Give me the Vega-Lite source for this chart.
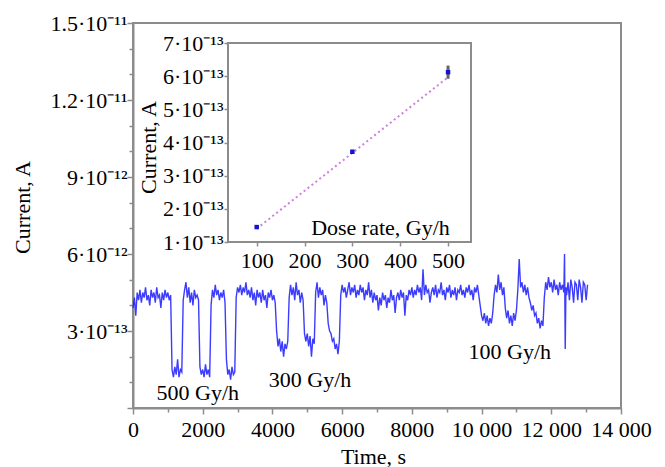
{
"$schema":"https://vega.github.io/schema/vega-lite/v6.json",
"width":488,"height":385,
"autosize":{"type":"none"},
"padding":{"left":133,"top":23,"right":44,"bottom":59},
"background":"white",
"config":{
 "view":{"stroke":"#8c8c8c","strokeWidth":2},
 "font":"Liberation Serif",
 "axis":{"labelFont":"Liberation Serif","titleFont":"Liberation Serif","labelOverlap":false},
 "style":{"guide-label":{"font":"Liberation Serif"},"guide-title":{"font":"Liberation Serif"}}
},
"layer":[
  {"data":{"values":[
{"t":0,"i":3.9},{"t":40,"i":4.3},{"t":80,"i":3.6},{"t":120,"i":4.5},{"t":160,"i":4.2},{"t":200,"i":4.6},{"t":240,"i":4.1},{"t":280,"i":4.5},{"t":320,"i":4.3},{"t":360,"i":4.7},{"t":400,"i":4.2},{"t":440,"i":4.4},{"t":480,"i":4.0},{"t":520,"i":4.6},{"t":560,"i":4.3},{"t":600,"i":4.5},{"t":640,"i":4.1},{"t":680,"i":4.7},{"t":720,"i":4.3},{"t":760,"i":4.4},{"t":800,"i":3.9},{"t":840,"i":4.5},{"t":880,"i":4.2},{"t":920,"i":4.6},{"t":960,"i":4.3},{"t":1000,"i":4.5},{"t":1040,"i":4.2},{"t":1080,"i":4.4},
{"t":1120,"i":1.5},{"t":1160,"i":1.2},{"t":1200,"i":1.6},{"t":1240,"i":1.3},{"t":1280,"i":1.9},{"t":1320,"i":1.2},{"t":1360,"i":1.5},{"t":1400,"i":1.4},
{"t":1440,"i":4.2},{"t":1480,"i":4.6},{"t":1520,"i":4.9},{"t":1560,"i":4.3},{"t":1600,"i":4.7},{"t":1640,"i":4.1},{"t":1680,"i":4.5},{"t":1720,"i":4.0},{"t":1760,"i":4.6},{"t":1800,"i":4.3},{"t":1840,"i":4.4},{"t":1880,"i":4.2},
{"t":1920,"i":1.6},{"t":1960,"i":1.3},{"t":2000,"i":1.5},{"t":2040,"i":1.2},{"t":2080,"i":1.7},{"t":2120,"i":1.3},{"t":2160,"i":1.5},{"t":2200,"i":1.2},
{"t":2240,"i":4.0},{"t":2280,"i":4.6},{"t":2320,"i":4.3},{"t":2360,"i":4.8},{"t":2400,"i":4.4},{"t":2440,"i":4.6},{"t":2480,"i":4.2},{"t":2520,"i":4.5},{"t":2560,"i":4.3},{"t":2600,"i":4.6},{"t":2640,"i":4.1},
{"t":2680,"i":1.9},{"t":2720,"i":1.3},{"t":2760,"i":1.5},{"t":2800,"i":1.1},{"t":2840,"i":1.6},{"t":2880,"i":1.3},{"t":2920,"i":1.4},
{"t":2960,"i":4.3},{"t":3000,"i":4.7},{"t":3040,"i":4.5},{"t":3080,"i":4.8},{"t":3120,"i":4.4},{"t":3160,"i":4.7},{"t":3200,"i":4.5},{"t":3240,"i":4.9},{"t":3280,"i":4.4},{"t":3320,"i":4.6},{"t":3360,"i":4.3},{"t":3400,"i":4.7},{"t":3440,"i":4.2},{"t":3480,"i":4.5},{"t":3520,"i":4.0},{"t":3560,"i":4.6},{"t":3600,"i":4.3},{"t":3640,"i":4.5},{"t":3680,"i":4.1},{"t":3720,"i":4.6},{"t":3760,"i":4.2},{"t":3800,"i":4.4},{"t":3840,"i":3.9},{"t":3880,"i":4.5},{"t":3920,"i":4.3},{"t":3960,"i":4.6},{"t":4000,"i":4.2},{"t":4040,"i":4.4},{"t":4080,"i":4.1},
{"t":4120,"i":3.0},{"t":4160,"i":2.4},{"t":4200,"i":2.7},{"t":4240,"i":2.2},{"t":4280,"i":2.6},{"t":4320,"i":2.0},{"t":4360,"i":2.5},{"t":4400,"i":2.3},{"t":4440,"i":2.6},
{"t":4480,"i":4.3},{"t":4520,"i":4.8},{"t":4560,"i":4.4},{"t":4600,"i":4.7},{"t":4640,"i":4.2},{"t":4680,"i":4.9},{"t":4720,"i":4.4},{"t":4760,"i":4.6},{"t":4800,"i":4.1},{"t":4840,"i":4.5},{"t":4880,"i":4.2},
{"t":4920,"i":2.9},{"t":4960,"i":2.6},{"t":5000,"i":2.9},{"t":5040,"i":2.4},{"t":5080,"i":2.8},{"t":5120,"i":2.0},{"t":5160,"i":2.7},{"t":5200,"i":2.5},
{"t":5240,"i":4.5},{"t":5280,"i":4.9},{"t":5320,"i":4.3},{"t":5360,"i":4.7},{"t":5400,"i":4.4},{"t":5440,"i":4.6},{"t":5480,"i":4.0},{"t":5520,"i":4.4},{"t":5560,"i":4.1},
{"t":5600,"i":3.3},{"t":5640,"i":3.0},{"t":5680,"i":2.9},{"t":5720,"i":2.6},{"t":5760,"i":2.7},{"t":5800,"i":2.3},{"t":5840,"i":2.5},{"t":5880,"i":2.1},{"t":5920,"i":2.6},
{"t":5960,"i":4.4},{"t":6000,"i":4.8},{"t":6040,"i":4.5},{"t":6080,"i":4.7},{"t":6120,"i":4.3},{"t":6160,"i":4.6},{"t":6200,"i":4.9},{"t":6240,"i":4.4},{"t":6280,"i":4.7},{"t":6320,"i":4.5},{"t":6360,"i":4.8},{"t":6400,"i":4.3},{"t":6440,"i":4.6},{"t":6480,"i":4.4},{"t":6520,"i":4.8},{"t":6560,"i":4.5},{"t":6600,"i":4.7},{"t":6640,"i":4.2},{"t":6680,"i":4.6},{"t":6720,"i":4.4},{"t":6760,"i":4.9},{"t":6800,"i":4.3},{"t":6840,"i":4.6},{"t":6880,"i":4.1},{"t":6920,"i":4.5},{"t":6960,"i":4.2},{"t":7000,"i":4.4},{"t":7040,"i":3.8},{"t":7080,"i":4.3},{"t":7120,"i":4.0},{"t":7160,"i":4.5},{"t":7200,"i":4.2},{"t":7240,"i":4.4},{"t":7280,"i":3.9},{"t":7320,"i":4.3},{"t":7360,"i":4.1},{"t":7400,"i":4.6},{"t":7440,"i":4.2},{"t":7480,"i":4.4},{"t":7520,"i":3.7},{"t":7560,"i":4.3},{"t":7600,"i":4.5},{"t":7640,"i":4.2},{"t":7680,"i":4.6},{"t":7720,"i":4.3},{"t":7760,"i":4.5},{"t":7800,"i":3.6},{"t":7840,"i":4.4},{"t":7880,"i":4.2},{"t":7920,"i":4.6},{"t":7960,"i":4.4},{"t":8000,"i":4.7},{"t":8040,"i":4.3},{"t":8080,"i":4.6},{"t":8120,"i":4.4},{"t":8160,"i":4.8},{"t":8200,"i":4.5},{"t":8240,"i":4.7},{"t":8280,"i":4.2},{"t":8320,"i":5.4},{"t":8360,"i":4.4},{"t":8400,"i":4.8},{"t":8440,"i":4.5},{"t":8480,"i":4.6},{"t":8520,"i":4.1},{"t":8560,"i":4.5},{"t":8600,"i":4.7},{"t":8640,"i":4.4},{"t":8680,"i":4.8},{"t":8720,"i":4.3},{"t":8760,"i":4.6},{"t":8800,"i":4.5},{"t":8840,"i":4.9},{"t":8880,"i":4.4},{"t":8920,"i":4.6},{"t":8960,"i":4.2},{"t":9000,"i":4.7},{"t":9040,"i":4.5},{"t":9080,"i":4.8},{"t":9120,"i":4.3},{"t":9160,"i":4.6},{"t":9200,"i":4.4},{"t":9240,"i":4.7},{"t":9280,"i":4.2},{"t":9320,"i":4.6},{"t":9360,"i":4.5},{"t":9400,"i":4.8},{"t":9440,"i":4.4},{"t":9480,"i":4.6},{"t":9520,"i":4.3},{"t":9560,"i":4.7},{"t":9600,"i":4.5},{"t":9640,"i":4.8},{"t":9680,"i":4.4},{"t":9720,"i":4.6},{"t":9760,"i":4.2},{"t":9800,"i":4.7},{"t":9840,"i":4.5},{"t":9880,"i":4.8},{"t":9920,"i":4.4},
{"t":9960,"i":4.0},{"t":10000,"i":3.6},{"t":10040,"i":3.4},{"t":10080,"i":3.7},{"t":10120,"i":3.3},{"t":10160,"i":3.6},{"t":10200,"i":3.2},{"t":10240,"i":3.5},{"t":10280,"i":3.3},{"t":10320,"i":3.7},
{"t":10360,"i":4.4},{"t":10400,"i":4.8},{"t":10440,"i":4.5},{"t":10480,"i":5.2},{"t":10520,"i":4.6},{"t":10560,"i":4.9},{"t":10600,"i":4.4},{"t":10640,"i":4.7},
{"t":10680,"i":3.9},{"t":10720,"i":3.5},{"t":10760,"i":3.8},{"t":10800,"i":3.3},{"t":10840,"i":3.6},{"t":10880,"i":3.2},{"t":10920,"i":3.7},{"t":10960,"i":3.4},{"t":11000,"i":3.8},
{"t":11040,"i":4.6},{"t":11080,"i":5.8},{"t":11120,"i":4.7},{"t":11160,"i":4.9},{"t":11200,"i":4.5},{"t":11240,"i":4.8},{"t":11280,"i":4.4},{"t":11320,"i":4.7},{"t":11360,"i":4.3},
{"t":11400,"i":4.1},{"t":11440,"i":3.8},{"t":11480,"i":4.0},{"t":11520,"i":3.6},{"t":11560,"i":3.7},{"t":11600,"i":3.3},{"t":11640,"i":3.5},{"t":11680,"i":3.1},{"t":11720,"i":3.4},{"t":11760,"i":3.2},
{"t":11800,"i":4.3},{"t":11840,"i":4.9},{"t":11880,"i":4.6},{"t":11920,"i":5.1},{"t":11960,"i":4.7},{"t":12000,"i":4.9},{"t":12040,"i":4.5},{"t":12080,"i":5.0},{"t":12120,"i":4.6},{"t":12160,"i":4.8},{"t":12200,"i":4.4},{"t":12240,"i":4.9},{"t":12280,"i":4.6},{"t":12320,"i":4.8},{"t":12360,"i":4.5},{"t":12380,"i":6.0},{"t":12400,"i":2.3},{"t":12420,"i":4.7},{"t":12440,"i":4.4},{"t":12480,"i":4.9},{"t":12520,"i":4.2},{"t":12560,"i":5.0},{"t":12600,"i":4.7},{"t":12640,"i":4.1},{"t":12680,"i":4.9},{"t":12720,"i":4.8},{"t":12760,"i":4.2},{"t":12800,"i":5.0},{"t":12840,"i":4.7},{"t":12880,"i":4.1},{"t":12920,"i":4.9},{"t":12960,"i":4.8},{"t":13000,"i":4.2},{"t":13040,"i":4.8}
  ]},
  "mark":{"type":"line","color":"#1a1aff","strokeWidth":1.4,"opacity":0.85},
  "encoding":{
   "x":{"field":"t","type":"quantitative","scale":{"domain":[0,14000],"nice":false},
    "axis":{"orient":"bottom","values":[0,2000,4000,6000,8000,10000,12000,14000],"format":"d",
     "labelExpr":"datum.value >= 10000 ? floor(datum.value/1000) + ' 000' : datum.label",
     "labelOverlap":false,"labelFlush":false,"labelBound":false,
     "labelFont":"Liberation Serif","labelFontSize":22,"labelColor":"black",
     "titleFont":"Liberation Serif","titleFontSize":22,"titleFontWeight":"normal","titleColor":"black",
     "domainColor":"#8c8c8c","domainWidth":2,"tickColor":"#8c8c8c","tickWidth":1.5,"tickSize":6,"grid":false,
     "labelPadding":5,
     "title":"Time, s","titleX":240,"titleY":55,"titleAlign":"center","titleBaseline":"alphabetic"}},
   "y":{"field":"i","type":"quantitative","scale":{"domain":[0,15],"nice":false},
    "axis":{"orient":"left","values":[0,3,6,9,12,15],
     "labelExpr":"datum.value == 15 ? '1.5·10⁻¹¹' : datum.value == 12 ? '1.2·10⁻¹¹' : datum.value == 9 ? '9·10⁻¹²' : datum.value == 6 ? '6·10⁻¹²' : datum.value == 3 ? '3·10⁻¹³' : ''",
     "labelOverlap":false,"labelFlush":false,"labelBound":false,
     "labelFont":"Liberation Serif","labelFontSize":22,"labelColor":"black",
     "titleFont":"Liberation Serif","titleFontSize":22,"titleFontWeight":"normal","titleColor":"black",
     "domainColor":"#8c8c8c","domainWidth":2,"tickColor":"#8c8c8c","tickWidth":1.5,"tickSize":6,"grid":false,
     "labelPadding":0,
     "title":"Current, A","titleX":-111,"titleY":184,"titleAngle":-90,"titleAlign":"center","titleBaseline":"middle"}}
  }},
 {"layer":[
  {"data":{"values":[{"d":100,"c":1.45}]},
   "mark":{"type":"rect","fill":"white","stroke":"#8c8c8c","strokeWidth":2},
   "encoding":{
    "x":{"datum":40,"type":"quantitative","scale":{"domain":[40,548],"range":[95,338],"nice":false,"zero":false},
     "axis":{"orient":"bottom","offset":-166,"values":[100,200,300,400,500],"domain":false,"zindex":2,
      "labelOverlap":false,"labelFlush":false,"labelBound":false,
      "labelFont":"Liberation Serif","labelFontSize":22,"labelColor":"black",
      "titleFont":"Liberation Serif","titleFontSize":22,"titleFontWeight":"normal","titleColor":"black",
      "tickColor":"#8c8c8c","tickWidth":1.5,"tickSize":4,"grid":false,"labelPadding":4,
      "title":"Dose rate, Gy/h","titleX":247,"titleY":-15,"titleAlign":"center","titleBaseline":"middle"}},
    "x2":{"datum":548},
    "y":{"datum":1,"type":"quantitative","scale":{"domain":[1,7],"range":[219,20],"nice":false,"zero":false},
     "axis":{"orient":"left","offset":-95,"values":[1,2,3,4,5,6,7],"domain":false,"zindex":2,
      "labelExpr":"datum.value + '·10⁻¹³'",
      "labelOverlap":false,"labelFlush":false,"labelBound":false,
      "labelFont":"Liberation Serif","labelFontSize":22,"labelColor":"black",
      "titleFont":"Liberation Serif","titleFontSize":22,"titleFontWeight":"normal","titleColor":"black",
      "tickColor":"#8c8c8c","tickWidth":1.5,"tickSize":4,"grid":false,"labelPadding":1,
      "title":"Current, A","titleX":-80,"titleY":124,"titleAngle":-90,"titleAlign":"center","titleBaseline":"middle"}},
    "y2":{"datum":7}
   }},
  {"data":{"values":[{"d":100,"c":1.4},{"d":500,"c":5.97}]},
   "mark":{"type":"line","color":"#cc80dd","strokeWidth":2,"strokeDash":[2,3]},
   "encoding":{"x":{"field":"d","type":"quantitative"},"y":{"field":"c","type":"quantitative"}}},
  {"data":{"values":[{"d":100,"c":1.45,"lo":1.42,"hi":1.48},{"d":300,"c":3.72,"lo":3.66,"hi":3.78},{"d":500,"c":6.12,"lo":5.92,"hi":6.32}]},
   "layer":[
    {"mark":{"type":"rule","color":"#666666","strokeWidth":3},
     "encoding":{"x":{"field":"d","type":"quantitative"},"y":{"field":"lo","type":"quantitative"},"y2":{"field":"hi"}}},
    {"mark":{"type":"square","color":"#1414d0","filled":true,"size":20,"opacity":1},
     "encoding":{"x":{"field":"d","type":"quantitative"},"y":{"field":"c","type":"quantitative"}}}
   ]}
 ]},
 {"data":{"values":[{"t":1860,"i":0.58,"label":"500 Gy/h"},{"t":5080,"i":1.09,"label":"300 Gy/h"},{"t":10810,"i":2.2,"label":"100 Gy/h"}]},
  "mark":{"type":"text","font":"Liberation Serif","fontSize":22,"color":"black","baseline":"middle","align":"center"},
  "encoding":{
   "x":{"field":"t","type":"quantitative","scale":{"domain":[0,14000],"nice":false},
    "axis":{"orient":"bottom","values":[1000,3000,5000,7000,9000,11000,13000],"labels":false,"domain":false,"title":null,"grid":false,
     "tickColor":"#8c8c8c","tickWidth":1.5,"tickSize":4}},
   "y":{"field":"i","type":"quantitative","scale":{"domain":[0,15],"nice":false},
    "axis":{"orient":"left","values":[1,2,4,5,7,8,10,11,13,14],"labels":false,"domain":false,"title":null,"grid":false,
     "tickColor":"#8c8c8c","tickWidth":1.5,"tickSize":4}},
   "text":{"field":"label"}}}
],
"resolve":{"scale":{"x":"independent","y":"independent"},"axis":{"x":"independent","y":"independent"}}
}
